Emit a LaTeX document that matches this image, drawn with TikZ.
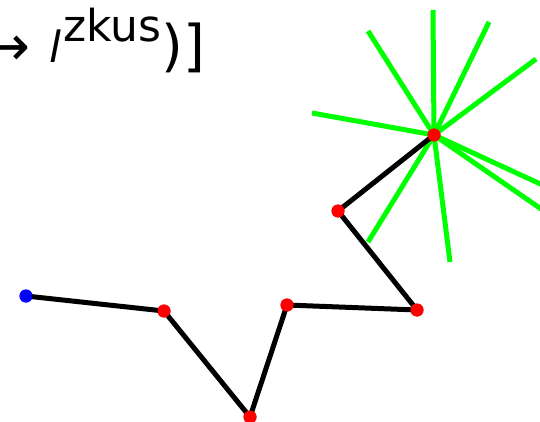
\documentclass[tikz,border=0pt]{standalone}
\usepackage{fontspec}
\setmainfont{DejaVu Sans}
\begin{document}
\begin{tikzpicture}[x=1pt,y=-1pt,
  seg/.style={line width=5pt,black},
  ray/.style={line width=5pt,draw=green},
  rdot/.style={circle,fill=red,inner sep=0pt,minimum size=13pt},
  bdot/.style={circle,fill=blue,inner sep=0pt,minimum size=13pt},
  txt/.style={inner sep=0pt,anchor=base west}]
\useasboundingbox (0,0) rectangle (540,422);
\clip (0,0) rectangle (540,422);
% text
\node[inner sep=0pt,anchor=base east,font=\fontsize{56}{60}\selectfont] (arr) at (31,65.5) {→};
\node[txt,font=\fontsize{43}{48}\selectfont\itshape] (ell) at (49,63) {l};
\node[txt,font=\fontsize{44}{48}\selectfont] (sup) at (63,42) {zkus};
\node[txt,font=\fontsize{56}{60}\selectfont] (cl) at (161,66) {)]};
% star rays
\coordinate (c) at (434,135);
\coordinate (r1) at (433,10);
\coordinate (r2) at (489,22);
\coordinate (r3) at (536,59);
\coordinate (r4) at (368,31);
\coordinate (r5) at (312,113);
\coordinate (r6) at (560,193);
\coordinate (r7) at (560,222);
\coordinate (r8) at (450,262);
\coordinate (r9) at (368,242);
\foreach \r in {r1,r2,r3,r4,r5,r6,r7,r8,r9} \draw[ray] (c) -- (\r);
% chain
\node[bdot] (p0) at (26,296) {};
\node[rdot] (p1) at (164,311) {};
\node[rdot] (p2) at (250,417) {};
\node[rdot] (p3) at (287,305) {};
\node[rdot] (p4) at (417,310) {};
\node[rdot] (p5) at (338,211) {};
\node[rdot] (p6) at (c) {};
\draw[seg] (p0.center) -- (p1.center) -- (p2.center) -- (p3.center) -- (p4.center) -- (p5.center) -- (p6.center);
\foreach \p in {p1,p2,p3,p4,p5,p6} \fill[red] (\p) circle (6.5);
\fill[blue] (p0) circle (6.5);
\end{tikzpicture}
\end{document}
